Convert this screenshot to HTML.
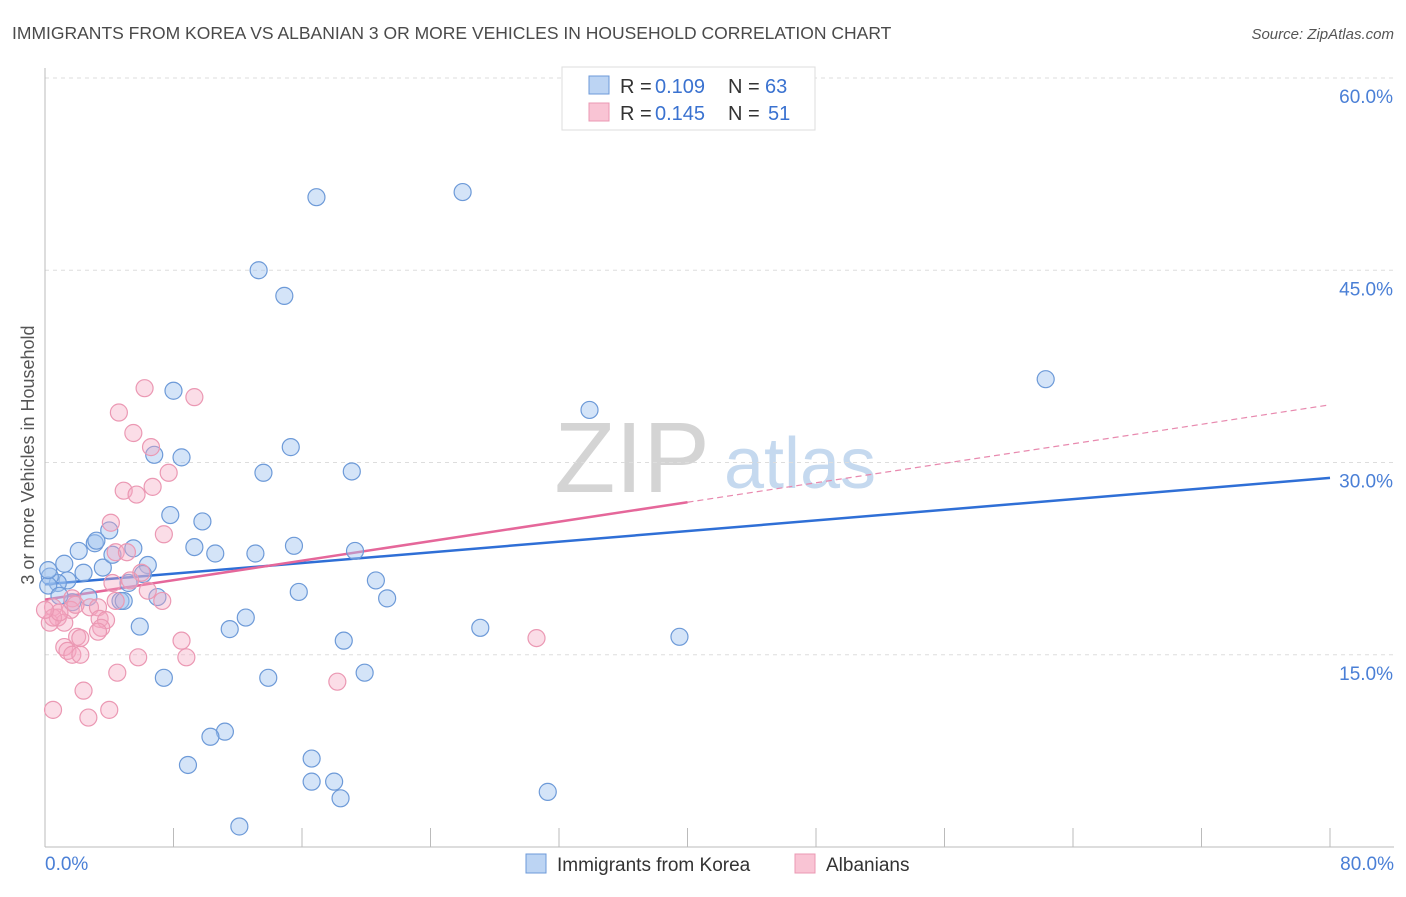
<!DOCTYPE html>
<html><head><meta charset="utf-8"><style>
body{margin:0;background:#fff;font-family:"Liberation Sans",sans-serif;}
svg text{font-family:"Liberation Sans",sans-serif;}
</style></head><body>
<svg id="chart" width="1406" height="892" viewBox="0 0 1406 892" xmlns="http://www.w3.org/2000/svg">
<text x="12" y="39" font-size="17.5" fill="#4a4a4a">IMMIGRANTS FROM KOREA VS ALBANIAN 3 OR MORE VEHICLES IN HOUSEHOLD CORRELATION CHART</text>
<text x="1394" y="39" font-size="15" fill="#555" font-style="italic" text-anchor="end">Source: ZipAtlas.com</text>
<g>
<text x="632" y="492" font-size="100" fill="#d4d4d4" font-family="Liberation Serif" text-anchor="middle">ZIP</text>
<text x="800" y="488" font-size="72" fill="#c5d9ef" text-anchor="middle">atlas</text>
</g>
<g id="grid"></g>
<g id="axes"></g>
<g id="lines"></g>
<g id="points"></g>
<text transform="translate(34,455) rotate(-90)" font-size="18" fill="#555" text-anchor="middle">3 or more Vehicles in Household</text>
<g>
<rect x="562" y="67" width="253" height="63" fill="#fff" stroke="#ddd"/>
<rect x="589" y="76" width="20" height="18" fill="#bcd4f3" stroke="#6d9ad8"/>
<rect x="589" y="103" width="20" height="18" fill="#f9c4d4" stroke="#eb98b3"/>
<text x="620" y="93" font-size="20" fill="#333">R =</text>
<text x="655" y="93" font-size="20" fill="#3a72d0">0.109</text>
<text x="728" y="93" font-size="20" fill="#333">N =</text>
<text x="765" y="93" font-size="20" fill="#3a72d0">63</text>
<text x="620" y="120" font-size="20" fill="#333">R =</text>
<text x="655" y="120" font-size="20" fill="#3a72d0">0.145</text>
<text x="728" y="120" font-size="20" fill="#333">N =</text>
<text x="768" y="120" font-size="20" fill="#3a72d0">51</text>
</g>
<g>
<rect x="526" y="854" width="20" height="19" fill="#bcd4f3" stroke="#6d9ad8"/>
<text x="557" y="871" font-size="19" fill="#333">Immigrants from Korea</text>
<rect x="795" y="854" width="20" height="19" fill="#f9c4d4" stroke="#eb98b3"/>
<text x="826" y="871" font-size="19" fill="#333">Albanians</text>
</g>
</svg>
<script>
const xTicks=[0,8,16,24,32,40,48,56,64,72,80];
const yTicks=[15,30,45,60];
const yTickLabels=["15.0%","30.0%","45.0%","60.0%"];
const xEndLabels=["0.0%","80.0%"];
const koreaX=[16.9,26.0,13.3,14.9,62.3,33.9,8.0,6.8,8.5,15.3,13.6,19.1,7.8,9.8,4.0,3.1,2.1,1.2,5.5,9.3,10.6,13.1,15.5,19.3,6.4,3.6,4.2,2.4,6.1,1.4,0.8,0.3,0.2,5.2,20.6,15.8,21.3,2.7,4.7,7.0,4.9,5.9,12.5,11.5,18.6,27.1,39.5,7.4,13.9,19.9,11.2,10.3,8.9,16.6,16.6,18.0,18.4,31.3,12.1,1.7,0.9,3.2,0.2];
const koreaY=[50.7,51.1,45.0,43.0,36.5,34.1,35.6,30.6,30.4,31.2,29.2,29.3,25.9,25.4,24.7,23.7,23.1,22.1,23.3,23.4,22.9,22.9,23.5,23.1,22.0,21.8,22.8,21.4,21.3,20.8,20.6,21.1,20.4,20.6,20.8,19.9,19.4,19.5,19.2,19.5,19.2,17.2,17.9,17.0,16.1,17.1,16.4,13.2,13.2,13.6,9.0,8.6,6.4,6.9,5.1,5.1,3.8,4.3,1.6,19.1,19.6,23.9,21.6];
const albX=[6.2,9.3,4.6,5.5,6.6,7.7,4.9,5.7,6.7,4.1,7.4,4.4,5.1,6.0,5.3,4.2,6.4,7.3,1.7,0.5,1.6,2.8,3.3,0.8,1.2,0.3,0.5,3.4,3.8,3.5,2.0,2.2,1.2,1.4,1.7,2.2,8.5,8.8,4.5,5.8,18.2,30.6,2.4,0.5,2.7,4.0,0.9,0.0,3.3,1.9,4.4];
const albY=[35.8,35.1,33.9,32.3,31.2,29.2,27.8,27.5,28.1,25.3,24.4,23.0,23.0,21.4,20.8,20.6,20.0,19.2,19.4,18.7,18.5,18.7,18.7,17.9,17.5,17.5,17.9,17.8,17.7,17.1,16.4,16.3,15.6,15.3,15.0,15.0,16.1,14.8,13.6,14.8,12.9,16.3,12.2,10.7,10.1,10.7,18.3,18.5,16.8,18.9,19.2];
const koreaFit=[20.5,28.8];
const albFit=[19.3,34.5];
const albSolidEnd=40;

const X0=45,X1=1330,Y0=847,Y60=78;
const sx=v=>X0+(v-0)/80*(X1-X0);
const sy=v=>Y0-(v/60)*(Y0-Y60);
const NS="http://www.w3.org/2000/svg";
function mk(tag,attrs,parent){const e=document.createElementNS(NS,tag);for(const k in attrs)e.setAttribute(k,attrs[k]);parent.appendChild(e);return e;}
const grid=document.getElementById('grid'),axes=document.getElementById('axes'),lines=document.getElementById('lines'),pts=document.getElementById('points');
yTicks.forEach((t,i)=>{
 const g=mk('line',{x1:X0,x2:1394,y1:sy(t),y2:sy(t),stroke:'#ddd','stroke-dasharray':'4,4'},grid);
 
 
 const l=mk('text',{x:1393,y:sy(t)+25,'font-size':19,fill:'#4a7fd6','text-anchor':'end'},axes);
 l.textContent=yTickLabels[i];
 
 
});
const ax=mk('line',{x1:X0,x2:X0,y1:68,y2:Y0,stroke:'#bbb'},axes);


const bx=mk('line',{x1:X0,x2:1394,y1:Y0,y2:Y0,stroke:'#bbb'},axes);


xTicks.forEach(t=>{
 const k=mk('line',{x1:sx(t),x2:sx(t),y1:828,y2:Y0,stroke:'#bbb'},axes);
 
 
});
[[0,'start',45],[80,'end',1394]].forEach((d,i)=>{
 const l=mk('text',{x:d[2],y:870,'font-size':19,fill:'#4a7fd6','text-anchor':d[1]},axes);
 l.textContent=xEndLabels[i];
 
 
});
function addPts(xs,ys,fill,stroke,name){
 xs.forEach((x,i)=>{
  const c=mk('circle',{cx:sx(x),cy:sy(ys[i]),r:8.5,fill:fill,stroke:stroke,'stroke-width':1.2},pts);
  
  
 });
}
addPts(koreaX,koreaY,'rgba(160,195,240,0.45)','#6d9ad8','korea-point');
addPts(albX,albY,'rgba(245,165,192,0.38)','#eb98b3','albanian-point');
const kl=mk('line',{x1:sx(0),y1:sy(koreaFit[0]),x2:sx(80),y2:sy(koreaFit[1]),stroke:'#2f6fd6','stroke-width':2.5},lines);


const aAt=x=>albFit[0]+(albFit[1]-albFit[0])*x/80;
const al=mk('line',{x1:sx(0),y1:sy(aAt(0)),x2:sx(albSolidEnd),y2:sy(aAt(albSolidEnd)),stroke:'#e5679a','stroke-width':2.5},lines);


const ad=mk('line',{x1:sx(albSolidEnd),y1:sy(aAt(albSolidEnd)),x2:sx(80),y2:sy(aAt(80)),stroke:'#e88aaf','stroke-width':1.2,'stroke-dasharray':'6,4'},lines);


</script>
</body></html>
